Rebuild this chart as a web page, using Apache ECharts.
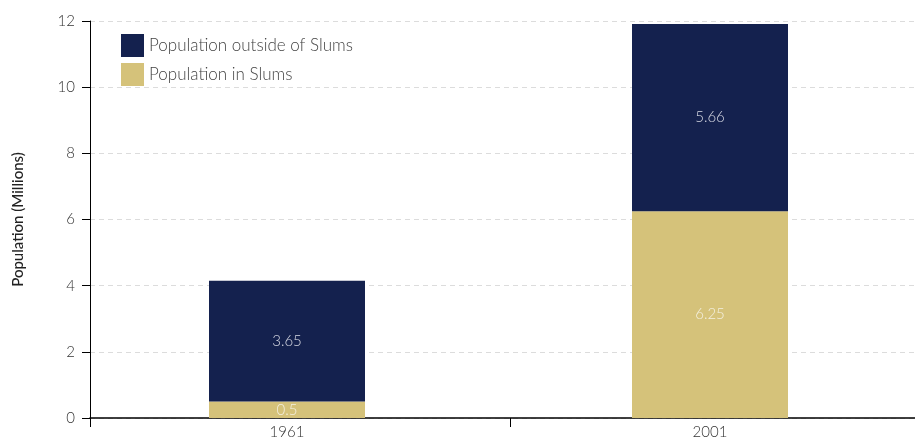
<!DOCTYPE html>
<html>
<head>
<meta charset="utf-8">
<script src="https://cdn.jsdelivr.net/npm/echarts@6/dist/echarts.min.js"></script>
<style>
  html, body { margin: 0; padding: 0; background: #fff; }
  #chart { width: 915px; height: 441px; }
</style>
</head>
<body>
<div id="chart"></div>
<script>
// data
var years = ["1961", "2001"];
var inSlums = [0.5, 6.25];
var outsideSlums = [3.65, 5.66];
var yTicks = [0, 2, 4, 6, 8, 10, 12];

var font = "Lato";
var yMin = yTicks[0];
var yMax = yTicks[yTicks.length - 1];
var chart = echarts.init(document.getElementById("chart"));

chart.setOption({
  animation: false,
  textStyle: { fontFamily: font },
  // grid 0: visible frame (y axis, gridlines, x baseline)
  // grid 1: the bars; category points sit on its edges (boundaryGap false)
  grid: [
    { left: 90, right: 0, top: 21, bottom: 23 },
    { left: 287, width: 423, top: 21, bottom: 23 }
  ],
  legend: {
    orient: "vertical",
    left: 116,
    top: 29,
    itemWidth: 23,
    itemHeight: 23,
    itemGap: 6,
    icon: "rect",
    data: ["Population outside of Slums", "Population in Slums"],
    textStyle: { color: "#444", fontSize: 17, fontFamily: font, fontWeight: 300 }
  },
  xAxis: [
    {
      gridIndex: 0,
      type: "value",
      min: 0,
      max: 825,
      interval: 420,
      axisLine: { show: true, onZero: false, lineStyle: { color: "#000", width: 1.5 } },
      axisTick: { show: true, length: 9, lineStyle: { color: "#000" } },
      axisLabel: { show: false },
      splitLine: { show: false }
    },
    {
      gridIndex: 1,
      type: "category",
      data: years,
      boundaryGap: false,
      axisLine: { show: false },
      axisTick: { show: false },
      splitLine: { show: false },
      axisLabel: { color: "#333", fontSize: 15, margin: 7, fontWeight: 300 }
    }
  ],
  yAxis: [
    {
      gridIndex: 0,
      type: "value",
      min: yMin,
      max: yMax,
      interval: 2,
      name: "Population (Millions)",
      nameLocation: "middle",
      nameGap: 64,
      nameTextStyle: { color: "#222", fontSize: 15, fontWeight: 500 },
      axisLine: { show: true, lineStyle: { color: "#000" } },
      axisTick: { show: true, length: 8, lineStyle: { color: "#000" } },
      axisLabel: { color: "#333", fontSize: 15, margin: 15, fontWeight: 300 },
      splitLine: { lineStyle: { color: "#dcdcdc", type: [5, 4] } }
    },
    {
      gridIndex: 1,
      type: "value",
      min: yMin,
      max: yMax,
      show: false
    }
  ],
  series: [
    {
      name: "Population in Slums",
      type: "bar",
      xAxisIndex: 1,
      yAxisIndex: 1,
      stack: "pop",
      data: inSlums,
      barWidth: 156,
      itemStyle: { color: "#d5c27a" },
      label: { show: true, position: "inside", color: "#f4f0e0", fontSize: 15, fontWeight: 300 }
    },
    {
      name: "Population outside of Slums",
      type: "bar",
      xAxisIndex: 1,
      yAxisIndex: 1,
      stack: "pop",
      data: outsideSlums,
      barWidth: 156,
      itemStyle: { color: "#14214e" },
      label: { show: true, position: "inside", color: "#d8dae4", fontSize: 15, fontWeight: 300 }
    }
  ]
});
</script>
</body>
</html>
